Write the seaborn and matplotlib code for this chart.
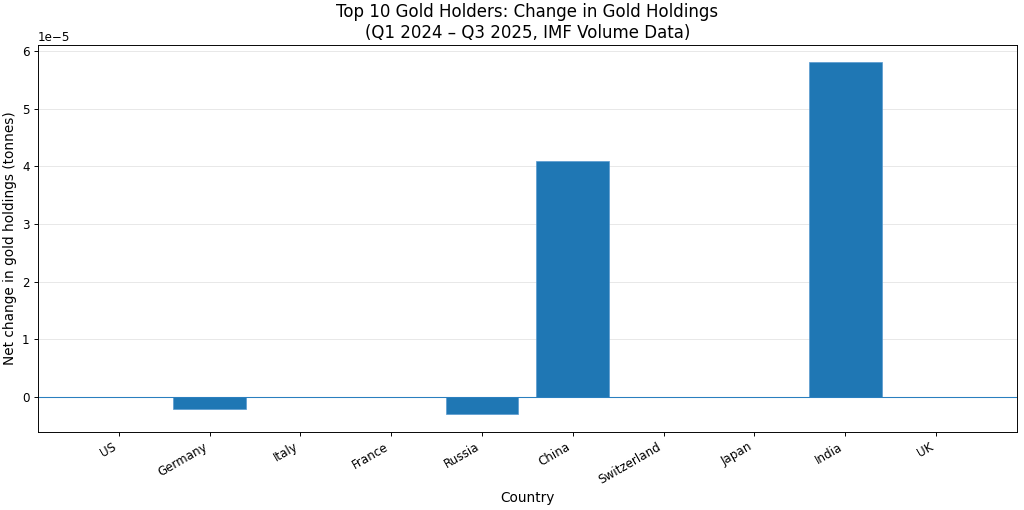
import matplotlib
matplotlib.use('Agg')
import matplotlib.pyplot as plt
import seaborn as sns
import pandas as pd

# Net change in holdings, Q1 2024 - Q3 2025
countries = ['US', 'Germany', 'Italy', 'France', 'Russia', 'China',
             'Switzerland', 'Japan', 'India', 'UK']
net_change = [0.0, -0.2e-5, 0.0, 0.0, -0.3e-5, 4.1e-5, 0.0, 0.0, 5.8e-5, 0.0]

df = pd.DataFrame({'Country': countries, 'Change': net_change})

plt.rcParams['font.family'] = ['DejaVu Sans']

dpi = 1024 / 12
fig, ax = plt.subplots(figsize=(12, 510 / dpi), dpi=dpi)
sns.barplot(data=df, x='Country', y='Change', color='#1f77b4', saturation=1,
            width=0.8, edgecolor='#5a9bd0', linewidth=0.6, ax=ax)
ax.axhline(0, color='#2a7fbf', linewidth=0.9)

# same padding as a plain matplotlib bar chart
n = len(countries)
pad = 0.05 * (n - 1 + 0.8)
ax.set_xlim(-0.4 - pad, n - 1 + 0.4 + pad)

ax.set_title('Top 10 Gold Holders: Change in Gold Holdings\n(Q1 2024 \u2013 Q3 2025, IMF Volume Data)',
             fontsize=14)
ax.set_xlabel('Country', fontsize=11.5)
ax.set_ylabel('Net change in gold holdings (tonnes)', fontsize=11.5)
ax.grid(axis='y', alpha=0.3)
ax.set_axisbelow(True)
plt.xticks(rotation=30, ha='right')

fig.subplots_adjust(left=0.037, right=0.993, top=0.912, bottom=0.153)
plt.savefig('out.png', dpi=dpi)
plt.close()
